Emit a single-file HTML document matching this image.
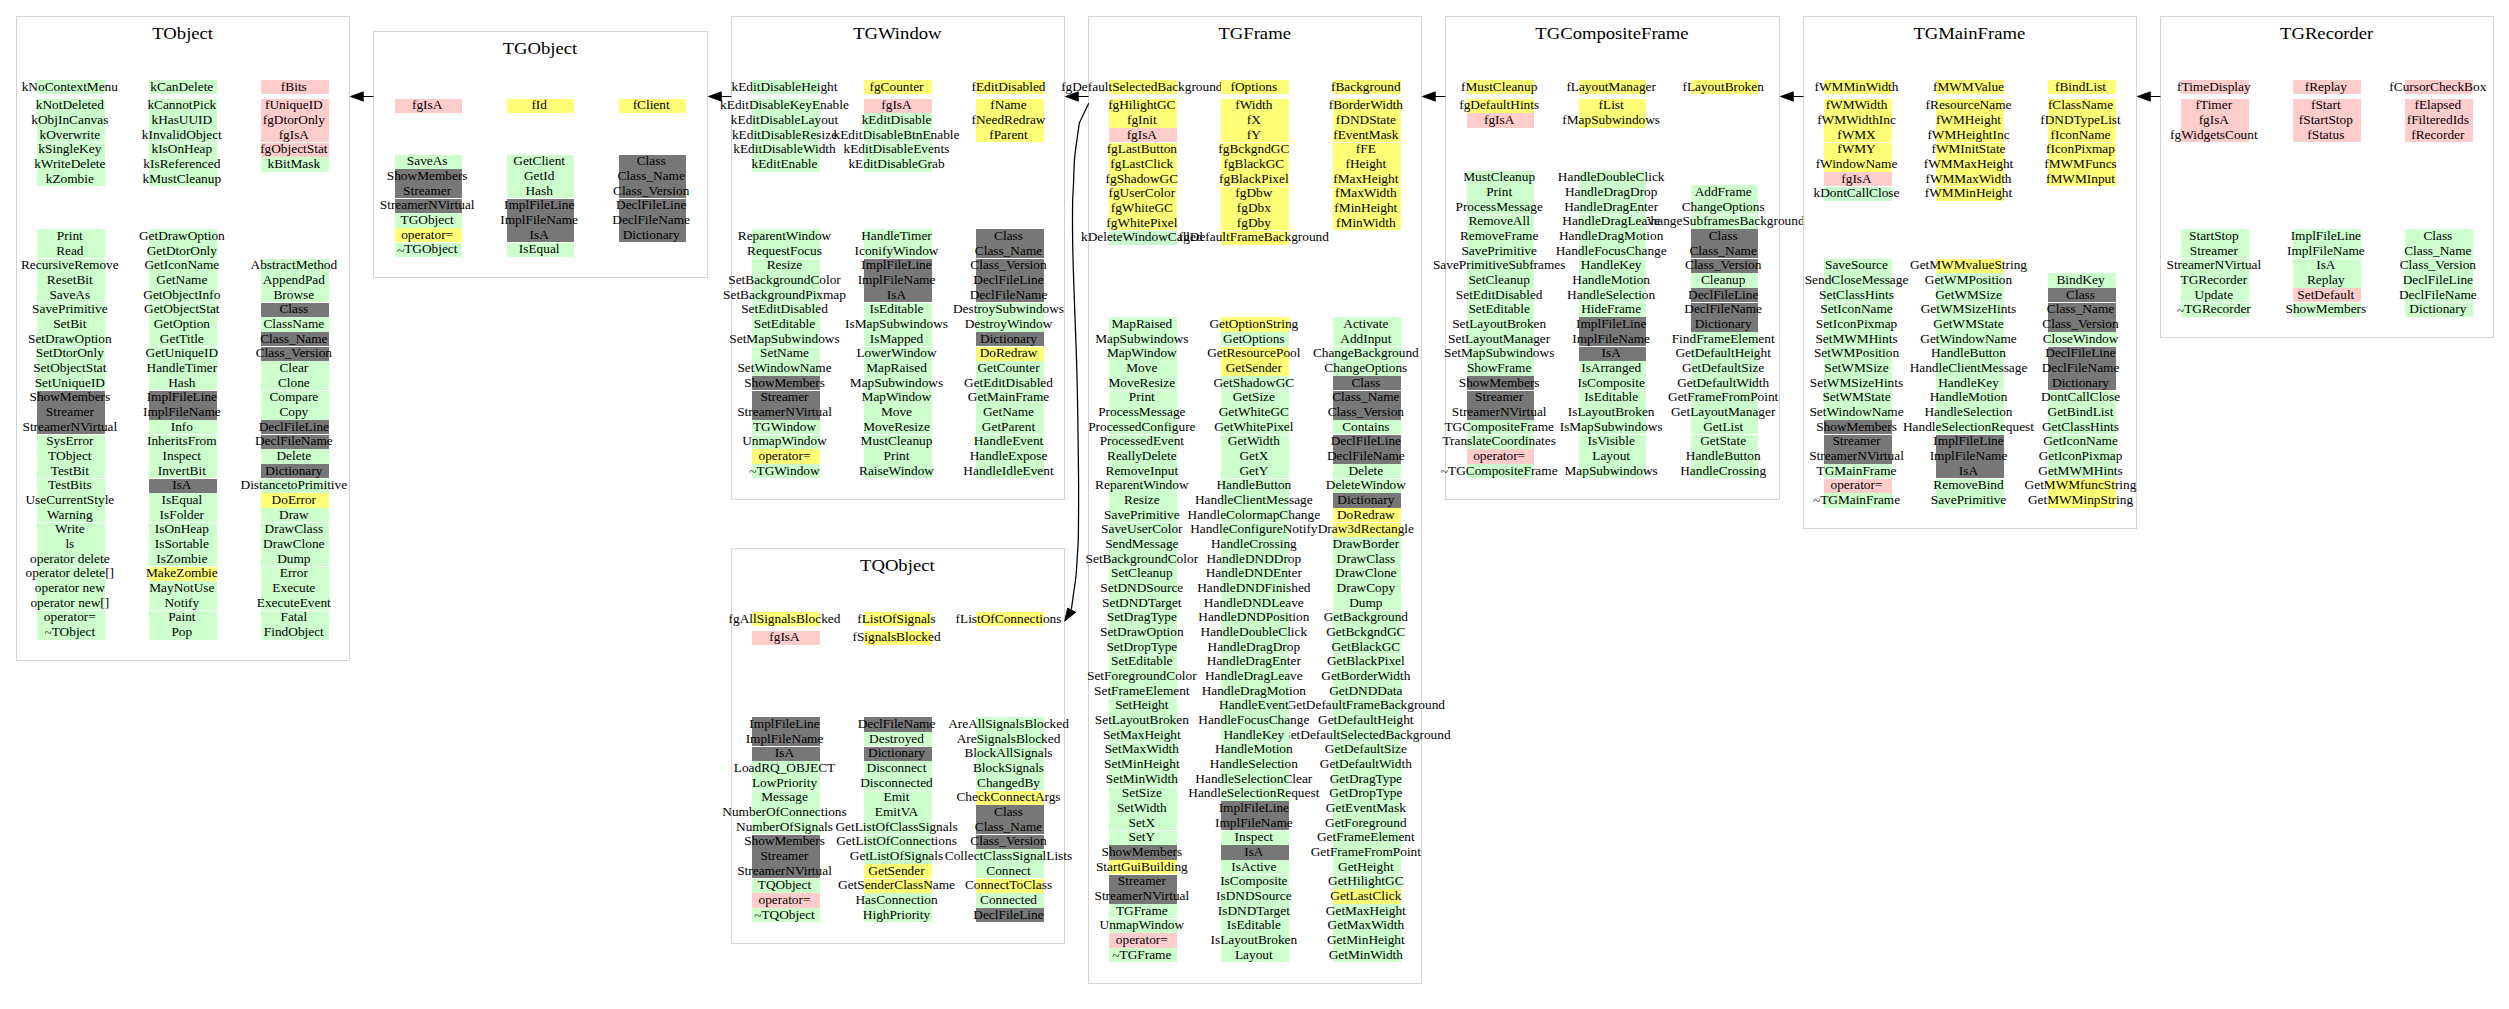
<!DOCTYPE html>
<html><head><meta charset="utf-8"><title>TGRecorder</title>
<style>
html,body{margin:0;padding:0;background:#fff}
svg{display:block}
text{font-family:"Liberation Serif","Times New Roman",Times,serif;font-size:13.333px;text-anchor:middle;fill:#000}
text.t{font-size:18.667px}
rect.c{fill:none;stroke:#d3d3d3;stroke-width:1}
path.e{fill:none;stroke:#000;stroke-width:1}
path.a{fill:#000;stroke:#000;stroke-width:0.8}
</style></head><body>
<svg width="2509" height="1009" viewBox="0 0 2509 1009">
<rect class="c" x="16.5" y="16.5" width="333" height="644"/>
<text class="t" transform="translate(182.67 38.8) scale(1 .95)">TObject</text>
<rect x="37" y="80" width="68" height="14" fill="#ccffcc"/>
<text x="69.83" y="90.6">kNoContextMenu</text>
<rect x="37" y="99" width="68" height="14" fill="#ccffcc"/>
<text x="69.83" y="109.27">kNotDeleted</text>
<rect x="37" y="113" width="68" height="15" fill="#ccffcc"/>
<text x="69.83" y="123.93">kObjInCanvas</text>
<rect x="37" y="128" width="68" height="14" fill="#ccffcc"/>
<text x="69.83" y="138.6">kOverwrite</text>
<rect x="37" y="143" width="68" height="14" fill="#ccffcc"/>
<text x="69.83" y="153.27">kSingleKey</text>
<rect x="37" y="157" width="68" height="15" fill="#ccffcc"/>
<text x="69.83" y="167.93">kWriteDelete</text>
<rect x="37" y="172" width="68" height="14" fill="#ccffcc"/>
<text x="69.83" y="182.6">kZombie</text>
<rect x="261" y="80" width="68" height="14" fill="#ffcccc"/>
<text x="293.83" y="90.6">fBits</text>
<rect x="261" y="99" width="68" height="14" fill="#ffcccc"/>
<text x="293.83" y="109.27">fUniqueID</text>
<rect x="261" y="113" width="68" height="15" fill="#ffcccc"/>
<text x="293.83" y="123.93">fgDtorOnly</text>
<rect x="261" y="128" width="68" height="14" fill="#ffcccc"/>
<text x="293.83" y="138.6">fgIsA</text>
<rect x="261" y="143" width="68" height="14" fill="#ffcccc"/>
<text x="293.83" y="153.27">fgObjectStat</text>
<rect x="261" y="157" width="68" height="15" fill="#ccffcc"/>
<text x="293.83" y="167.93">kBitMask</text>
<rect x="149" y="80" width="68" height="14" fill="#ccffcc"/>
<text x="181.83" y="90.6">kCanDelete</text>
<rect x="149" y="99" width="68" height="14" fill="#ccffcc"/>
<text x="181.83" y="109.27">kCannotPick</text>
<rect x="149" y="113" width="68" height="15" fill="#ccffcc"/>
<text x="181.83" y="123.93">kHasUUID</text>
<rect x="149" y="128" width="68" height="14" fill="#ccffcc"/>
<text x="181.83" y="138.6">kInvalidObject</text>
<rect x="149" y="143" width="68" height="14" fill="#ccffcc"/>
<text x="181.83" y="153.27">kIsOnHeap</text>
<rect x="149" y="157" width="68" height="15" fill="#ccffcc"/>
<text x="181.83" y="167.93">kIsReferenced</text>
<rect x="149" y="172" width="68" height="14" fill="#ccffcc"/>
<text x="181.83" y="182.6">kMustCleanup</text>
<rect x="37" y="229" width="68" height="15" fill="#ccffcc"/>
<text x="69.83" y="239.93">Print</text>
<rect x="37" y="244" width="68" height="14" fill="#ccffcc"/>
<text x="69.83" y="254.6">Read</text>
<rect x="37" y="259" width="68" height="14" fill="#ccffcc"/>
<text x="69.83" y="269.27">RecursiveRemove</text>
<rect x="37" y="273" width="68" height="15" fill="#ccffcc"/>
<text x="69.83" y="283.93">ResetBit</text>
<rect x="37" y="288" width="68" height="14" fill="#ccffcc"/>
<text x="69.83" y="298.6">SaveAs</text>
<rect x="37" y="303" width="68" height="14" fill="#ccffcc"/>
<text x="69.83" y="313.27">SavePrimitive</text>
<rect x="37" y="317" width="68" height="15" fill="#ccffcc"/>
<text x="69.83" y="327.93">SetBit</text>
<rect x="37" y="332" width="68" height="14" fill="#ccffcc"/>
<text x="69.83" y="342.6">SetDrawOption</text>
<rect x="37" y="347" width="68" height="14" fill="#ccffcc"/>
<text x="69.83" y="357.27">SetDtorOnly</text>
<rect x="37" y="361" width="68" height="15" fill="#ccffcc"/>
<text x="69.83" y="371.93">SetObjectStat</text>
<rect x="37" y="376" width="68" height="14" fill="#ccffcc"/>
<text x="69.83" y="386.6">SetUniqueID</text>
<rect x="37" y="391" width="68" height="14" fill="#777777"/>
<text x="69.83" y="401.27">ShowMembers</text>
<rect x="37" y="405" width="68" height="15" fill="#777777"/>
<text x="69.83" y="415.93">Streamer</text>
<rect x="37" y="420" width="68" height="14" fill="#777777"/>
<text x="69.83" y="430.6">StreamerNVirtual</text>
<rect x="37" y="435" width="68" height="14" fill="#ccffcc"/>
<text x="69.83" y="445.27">SysError</text>
<rect x="37" y="449" width="68" height="15" fill="#ccffcc"/>
<text x="69.83" y="459.93">TObject</text>
<rect x="37" y="464" width="68" height="14" fill="#ccffcc"/>
<text x="69.83" y="474.6">TestBit</text>
<rect x="37" y="479" width="68" height="14" fill="#ccffcc"/>
<text x="69.83" y="489.27">TestBits</text>
<rect x="37" y="493" width="68" height="15" fill="#ccffcc"/>
<text x="69.83" y="503.93">UseCurrentStyle</text>
<rect x="37" y="508" width="68" height="14" fill="#ccffcc"/>
<text x="69.83" y="518.6">Warning</text>
<rect x="37" y="523" width="68" height="14" fill="#ccffcc"/>
<text x="69.83" y="533.27">Write</text>
<rect x="37" y="537" width="68" height="15" fill="#ccffcc"/>
<text x="69.83" y="547.93">ls</text>
<rect x="37" y="552" width="68" height="14" fill="#ccffcc"/>
<text x="69.83" y="562.6">operator delete</text>
<rect x="37" y="567" width="68" height="14" fill="#ccffcc"/>
<text x="69.83" y="577.27">operator delete[]</text>
<rect x="37" y="581" width="68" height="15" fill="#ccffcc"/>
<text x="69.83" y="591.93">operator new</text>
<rect x="37" y="596" width="68" height="14" fill="#ccffcc"/>
<text x="69.83" y="606.6">operator new[]</text>
<rect x="37" y="611" width="68" height="14" fill="#ccffcc"/>
<text x="69.83" y="621.27">operator=</text>
<rect x="37" y="625" width="68" height="15" fill="#ccffcc"/>
<text x="69.83" y="635.93"><tspan dy="1.5">~</tspan><tspan dy="-1.5">TObject</tspan></text>
<rect x="261" y="259" width="68" height="14" fill="#ccffcc"/>
<text x="293.83" y="269.27">AbstractMethod</text>
<rect x="261" y="273" width="68" height="15" fill="#ccffcc"/>
<text x="293.83" y="283.93">AppendPad</text>
<rect x="261" y="288" width="68" height="14" fill="#ccffcc"/>
<text x="293.83" y="298.6">Browse</text>
<rect x="261" y="303" width="68" height="14" fill="#777777"/>
<text x="293.83" y="313.27">Class</text>
<rect x="261" y="317" width="68" height="15" fill="#ccffcc"/>
<text x="293.83" y="327.93">ClassName</text>
<rect x="261" y="332" width="68" height="14" fill="#777777"/>
<text x="293.83" y="342.6">Class_Name</text>
<rect x="261" y="347" width="68" height="14" fill="#777777"/>
<text x="293.83" y="357.27">Class_Version</text>
<rect x="261" y="361" width="68" height="15" fill="#ccffcc"/>
<text x="293.83" y="371.93">Clear</text>
<rect x="261" y="376" width="68" height="14" fill="#ccffcc"/>
<text x="293.83" y="386.6">Clone</text>
<rect x="261" y="391" width="68" height="14" fill="#ccffcc"/>
<text x="293.83" y="401.27">Compare</text>
<rect x="261" y="405" width="68" height="15" fill="#ccffcc"/>
<text x="293.83" y="415.93">Copy</text>
<rect x="261" y="420" width="68" height="14" fill="#777777"/>
<text x="293.83" y="430.6">DeclFileLine</text>
<rect x="261" y="435" width="68" height="14" fill="#777777"/>
<text x="293.83" y="445.27">DeclFileName</text>
<rect x="261" y="449" width="68" height="15" fill="#ccffcc"/>
<text x="293.83" y="459.93">Delete</text>
<rect x="261" y="464" width="68" height="14" fill="#777777"/>
<text x="293.83" y="474.6">Dictionary</text>
<rect x="261" y="479" width="68" height="14" fill="#ccffcc"/>
<text x="293.83" y="489.27">DistancetoPrimitive</text>
<rect x="261" y="493" width="68" height="15" fill="#ffff77"/>
<text x="293.83" y="503.93">DoError</text>
<rect x="261" y="508" width="68" height="14" fill="#ccffcc"/>
<text x="293.83" y="518.6">Draw</text>
<rect x="261" y="523" width="68" height="14" fill="#ccffcc"/>
<text x="293.83" y="533.27">DrawClass</text>
<rect x="261" y="537" width="68" height="15" fill="#ccffcc"/>
<text x="293.83" y="547.93">DrawClone</text>
<rect x="261" y="552" width="68" height="14" fill="#ccffcc"/>
<text x="293.83" y="562.6">Dump</text>
<rect x="261" y="567" width="68" height="14" fill="#ccffcc"/>
<text x="293.83" y="577.27">Error</text>
<rect x="261" y="581" width="68" height="15" fill="#ccffcc"/>
<text x="293.83" y="591.93">Execute</text>
<rect x="261" y="596" width="68" height="14" fill="#ccffcc"/>
<text x="293.83" y="606.6">ExecuteEvent</text>
<rect x="261" y="611" width="68" height="14" fill="#ccffcc"/>
<text x="293.83" y="621.27">Fatal</text>
<rect x="261" y="625" width="68" height="15" fill="#ccffcc"/>
<text x="293.83" y="635.93">FindObject</text>
<rect x="149" y="229" width="68" height="15" fill="#ccffcc"/>
<text x="181.83" y="239.93">GetDrawOption</text>
<rect x="149" y="244" width="68" height="14" fill="#ccffcc"/>
<text x="181.83" y="254.6">GetDtorOnly</text>
<rect x="149" y="259" width="68" height="14" fill="#ccffcc"/>
<text x="181.83" y="269.27">GetIconName</text>
<rect x="149" y="273" width="68" height="15" fill="#ccffcc"/>
<text x="181.83" y="283.93">GetName</text>
<rect x="149" y="288" width="68" height="14" fill="#ccffcc"/>
<text x="181.83" y="298.6">GetObjectInfo</text>
<rect x="149" y="303" width="68" height="14" fill="#ccffcc"/>
<text x="181.83" y="313.27">GetObjectStat</text>
<rect x="149" y="317" width="68" height="15" fill="#ccffcc"/>
<text x="181.83" y="327.93">GetOption</text>
<rect x="149" y="332" width="68" height="14" fill="#ccffcc"/>
<text x="181.83" y="342.6">GetTitle</text>
<rect x="149" y="347" width="68" height="14" fill="#ccffcc"/>
<text x="181.83" y="357.27">GetUniqueID</text>
<rect x="149" y="361" width="68" height="15" fill="#ccffcc"/>
<text x="181.83" y="371.93">HandleTimer</text>
<rect x="149" y="376" width="68" height="14" fill="#ccffcc"/>
<text x="181.83" y="386.6">Hash</text>
<rect x="149" y="391" width="68" height="14" fill="#777777"/>
<text x="181.83" y="401.27">ImplFileLine</text>
<rect x="149" y="405" width="68" height="15" fill="#777777"/>
<text x="181.83" y="415.93">ImplFileName</text>
<rect x="149" y="420" width="68" height="14" fill="#ccffcc"/>
<text x="181.83" y="430.6">Info</text>
<rect x="149" y="435" width="68" height="14" fill="#ccffcc"/>
<text x="181.83" y="445.27">InheritsFrom</text>
<rect x="149" y="449" width="68" height="15" fill="#ccffcc"/>
<text x="181.83" y="459.93">Inspect</text>
<rect x="149" y="464" width="68" height="14" fill="#ccffcc"/>
<text x="181.83" y="474.6">InvertBit</text>
<rect x="149" y="479" width="68" height="14" fill="#777777"/>
<text x="181.83" y="489.27">IsA</text>
<rect x="149" y="493" width="68" height="15" fill="#ccffcc"/>
<text x="181.83" y="503.93">IsEqual</text>
<rect x="149" y="508" width="68" height="14" fill="#ccffcc"/>
<text x="181.83" y="518.6">IsFolder</text>
<rect x="149" y="523" width="68" height="14" fill="#ccffcc"/>
<text x="181.83" y="533.27">IsOnHeap</text>
<rect x="149" y="537" width="68" height="15" fill="#ccffcc"/>
<text x="181.83" y="547.93">IsSortable</text>
<rect x="149" y="552" width="68" height="14" fill="#ccffcc"/>
<text x="181.83" y="562.6">IsZombie</text>
<rect x="149" y="567" width="68" height="14" fill="#ffff77"/>
<text x="181.83" y="577.27">MakeZombie</text>
<rect x="149" y="581" width="68" height="15" fill="#ccffcc"/>
<text x="181.83" y="591.93">MayNotUse</text>
<rect x="149" y="596" width="68" height="14" fill="#ccffcc"/>
<text x="181.83" y="606.6">Notify</text>
<rect x="149" y="611" width="68" height="14" fill="#ccffcc"/>
<text x="181.83" y="621.27">Paint</text>
<rect x="149" y="625" width="68" height="15" fill="#ccffcc"/>
<text x="181.83" y="635.93">Pop</text>
<rect class="c" x="373.5" y="31.5" width="334" height="246"/>
<text class="t" transform="translate(540 53.8) scale(1 .95)">TGObject</text>
<rect x="395" y="99" width="67" height="14" fill="#ffcccc"/>
<text x="427.17" y="109.27">fgIsA</text>
<rect x="619" y="99" width="67" height="14" fill="#ffff77"/>
<text x="651.17" y="109.27">fClient</text>
<rect x="507" y="99" width="67" height="14" fill="#ffff77"/>
<text x="539.17" y="109.27">fId</text>
<rect x="395" y="155" width="67" height="14" fill="#ccffcc"/>
<text x="427.17" y="165.27">SaveAs</text>
<rect x="395" y="169" width="67" height="15" fill="#777777"/>
<text x="427.17" y="179.93">ShowMembers</text>
<rect x="395" y="184" width="67" height="14" fill="#777777"/>
<text x="427.17" y="194.6">Streamer</text>
<rect x="395" y="199" width="67" height="14" fill="#777777"/>
<text x="427.17" y="209.27">StreamerNVirtual</text>
<rect x="395" y="213" width="67" height="15" fill="#ccffcc"/>
<text x="427.17" y="223.93">TGObject</text>
<rect x="395" y="228" width="67" height="14" fill="#ffff77"/>
<text x="427.17" y="238.6">operator=</text>
<rect x="395" y="243" width="67" height="14" fill="#ccffcc"/>
<text x="427.17" y="253.27"><tspan dy="1.5">~</tspan><tspan dy="-1.5">TGObject</tspan></text>
<rect x="619" y="155" width="67" height="14" fill="#777777"/>
<text x="651.17" y="165.27">Class</text>
<rect x="619" y="169" width="67" height="15" fill="#777777"/>
<text x="651.17" y="179.93">Class_Name</text>
<rect x="619" y="184" width="67" height="14" fill="#777777"/>
<text x="651.17" y="194.6">Class_Version</text>
<rect x="619" y="199" width="67" height="14" fill="#777777"/>
<text x="651.17" y="209.27">DeclFileLine</text>
<rect x="619" y="213" width="67" height="15" fill="#777777"/>
<text x="651.17" y="223.93">DeclFileName</text>
<rect x="619" y="228" width="67" height="14" fill="#777777"/>
<text x="651.17" y="238.6">Dictionary</text>
<rect x="507" y="155" width="67" height="14" fill="#ccffcc"/>
<text x="539.17" y="165.27">GetClient</text>
<rect x="507" y="169" width="67" height="15" fill="#ccffcc"/>
<text x="539.17" y="179.93">GetId</text>
<rect x="507" y="184" width="67" height="14" fill="#ccffcc"/>
<text x="539.17" y="194.6">Hash</text>
<rect x="507" y="199" width="67" height="14" fill="#777777"/>
<text x="539.17" y="209.27">ImplFileLine</text>
<rect x="507" y="213" width="67" height="15" fill="#777777"/>
<text x="539.17" y="223.93">ImplFileName</text>
<rect x="507" y="228" width="67" height="14" fill="#777777"/>
<text x="539.17" y="238.6">IsA</text>
<rect x="507" y="243" width="67" height="14" fill="#ccffcc"/>
<text x="539.17" y="253.27">IsEqual</text>
<rect class="c" x="731.5" y="16.5" width="333" height="483"/>
<text class="t" transform="translate(897.33 38.8) scale(1 .95)">TGWindow</text>
<rect x="752" y="80" width="68" height="14" fill="#ccffcc"/>
<text x="784.5" y="90.6">kEditDisableHeight</text>
<rect x="752" y="99" width="68" height="14" fill="#ccffcc"/>
<text x="784.5" y="109.27">kEditDisableKeyEnable</text>
<rect x="752" y="113" width="68" height="15" fill="#ccffcc"/>
<text x="784.5" y="123.93">kEditDisableLayout</text>
<rect x="752" y="128" width="68" height="14" fill="#ccffcc"/>
<text x="784.5" y="138.6">kEditDisableResize</text>
<rect x="752" y="143" width="68" height="14" fill="#ccffcc"/>
<text x="784.5" y="153.27">kEditDisableWidth</text>
<rect x="752" y="157" width="68" height="15" fill="#ccffcc"/>
<text x="784.5" y="167.93">kEditEnable</text>
<rect x="976" y="80" width="68" height="14" fill="#ffff77"/>
<text x="1008.5" y="90.6">fEditDisabled</text>
<rect x="976" y="99" width="68" height="14" fill="#ffff77"/>
<text x="1008.5" y="109.27">fName</text>
<rect x="976" y="113" width="68" height="15" fill="#ffff77"/>
<text x="1008.5" y="123.93">fNeedRedraw</text>
<rect x="976" y="128" width="68" height="14" fill="#ffff77"/>
<text x="1008.5" y="138.6">fParent</text>
<rect x="864" y="80" width="68" height="14" fill="#ffff77"/>
<text x="896.5" y="90.6">fgCounter</text>
<rect x="864" y="99" width="68" height="14" fill="#ffcccc"/>
<text x="896.5" y="109.27">fgIsA</text>
<rect x="864" y="113" width="68" height="15" fill="#ccffcc"/>
<text x="896.5" y="123.93">kEditDisable</text>
<rect x="864" y="128" width="68" height="14" fill="#ccffcc"/>
<text x="896.5" y="138.6">kEditDisableBtnEnable</text>
<rect x="864" y="143" width="68" height="14" fill="#ccffcc"/>
<text x="896.5" y="153.27">kEditDisableEvents</text>
<rect x="864" y="157" width="68" height="15" fill="#ccffcc"/>
<text x="896.5" y="167.93">kEditDisableGrab</text>
<rect x="752" y="229" width="68" height="15" fill="#ccffcc"/>
<text x="784.5" y="239.93">ReparentWindow</text>
<rect x="752" y="244" width="68" height="14" fill="#ccffcc"/>
<text x="784.5" y="254.6">RequestFocus</text>
<rect x="752" y="259" width="68" height="14" fill="#ccffcc"/>
<text x="784.5" y="269.27">Resize</text>
<rect x="752" y="273" width="68" height="15" fill="#ccffcc"/>
<text x="784.5" y="283.93">SetBackgroundColor</text>
<rect x="752" y="288" width="68" height="14" fill="#ccffcc"/>
<text x="784.5" y="298.6">SetBackgroundPixmap</text>
<rect x="752" y="303" width="68" height="14" fill="#ccffcc"/>
<text x="784.5" y="313.27">SetEditDisabled</text>
<rect x="752" y="317" width="68" height="15" fill="#ccffcc"/>
<text x="784.5" y="327.93">SetEditable</text>
<rect x="752" y="332" width="68" height="14" fill="#ccffcc"/>
<text x="784.5" y="342.6">SetMapSubwindows</text>
<rect x="752" y="347" width="68" height="14" fill="#ccffcc"/>
<text x="784.5" y="357.27">SetName</text>
<rect x="752" y="361" width="68" height="15" fill="#ccffcc"/>
<text x="784.5" y="371.93">SetWindowName</text>
<rect x="752" y="376" width="68" height="14" fill="#777777"/>
<text x="784.5" y="386.6">ShowMembers</text>
<rect x="752" y="391" width="68" height="14" fill="#777777"/>
<text x="784.5" y="401.27">Streamer</text>
<rect x="752" y="405" width="68" height="15" fill="#777777"/>
<text x="784.5" y="415.93">StreamerNVirtual</text>
<rect x="752" y="420" width="68" height="14" fill="#ccffcc"/>
<text x="784.5" y="430.6">TGWindow</text>
<rect x="752" y="435" width="68" height="14" fill="#ccffcc"/>
<text x="784.5" y="445.27">UnmapWindow</text>
<rect x="752" y="449" width="68" height="15" fill="#ffff77"/>
<text x="784.5" y="459.93">operator=</text>
<rect x="752" y="464" width="68" height="14" fill="#ccffcc"/>
<text x="784.5" y="474.6"><tspan dy="1.5">~</tspan><tspan dy="-1.5">TGWindow</tspan></text>
<rect x="976" y="229" width="68" height="15" fill="#777777"/>
<text x="1008.5" y="239.93">Class</text>
<rect x="976" y="244" width="68" height="14" fill="#777777"/>
<text x="1008.5" y="254.6">Class_Name</text>
<rect x="976" y="259" width="68" height="14" fill="#777777"/>
<text x="1008.5" y="269.27">Class_Version</text>
<rect x="976" y="273" width="68" height="15" fill="#777777"/>
<text x="1008.5" y="283.93">DeclFileLine</text>
<rect x="976" y="288" width="68" height="14" fill="#777777"/>
<text x="1008.5" y="298.6">DeclFileName</text>
<rect x="976" y="303" width="68" height="14" fill="#ccffcc"/>
<text x="1008.5" y="313.27">DestroySubwindows</text>
<rect x="976" y="317" width="68" height="15" fill="#ccffcc"/>
<text x="1008.5" y="327.93">DestroyWindow</text>
<rect x="976" y="332" width="68" height="14" fill="#777777"/>
<text x="1008.5" y="342.6">Dictionary</text>
<rect x="976" y="347" width="68" height="14" fill="#ffff77"/>
<text x="1008.5" y="357.27">DoRedraw</text>
<rect x="976" y="361" width="68" height="15" fill="#ccffcc"/>
<text x="1008.5" y="371.93">GetCounter</text>
<rect x="976" y="376" width="68" height="14" fill="#ccffcc"/>
<text x="1008.5" y="386.6">GetEditDisabled</text>
<rect x="976" y="391" width="68" height="14" fill="#ccffcc"/>
<text x="1008.5" y="401.27">GetMainFrame</text>
<rect x="976" y="405" width="68" height="15" fill="#ccffcc"/>
<text x="1008.5" y="415.93">GetName</text>
<rect x="976" y="420" width="68" height="14" fill="#ccffcc"/>
<text x="1008.5" y="430.6">GetParent</text>
<rect x="976" y="435" width="68" height="14" fill="#ccffcc"/>
<text x="1008.5" y="445.27">HandleEvent</text>
<rect x="976" y="449" width="68" height="15" fill="#ccffcc"/>
<text x="1008.5" y="459.93">HandleExpose</text>
<rect x="976" y="464" width="68" height="14" fill="#ccffcc"/>
<text x="1008.5" y="474.6">HandleIdleEvent</text>
<rect x="864" y="229" width="68" height="15" fill="#ccffcc"/>
<text x="896.5" y="239.93">HandleTimer</text>
<rect x="864" y="244" width="68" height="14" fill="#ccffcc"/>
<text x="896.5" y="254.6">IconifyWindow</text>
<rect x="864" y="259" width="68" height="14" fill="#777777"/>
<text x="896.5" y="269.27">ImplFileLine</text>
<rect x="864" y="273" width="68" height="15" fill="#777777"/>
<text x="896.5" y="283.93">ImplFileName</text>
<rect x="864" y="288" width="68" height="14" fill="#777777"/>
<text x="896.5" y="298.6">IsA</text>
<rect x="864" y="303" width="68" height="14" fill="#ccffcc"/>
<text x="896.5" y="313.27">IsEditable</text>
<rect x="864" y="317" width="68" height="15" fill="#ccffcc"/>
<text x="896.5" y="327.93">IsMapSubwindows</text>
<rect x="864" y="332" width="68" height="14" fill="#ccffcc"/>
<text x="896.5" y="342.6">IsMapped</text>
<rect x="864" y="347" width="68" height="14" fill="#ccffcc"/>
<text x="896.5" y="357.27">LowerWindow</text>
<rect x="864" y="361" width="68" height="15" fill="#ccffcc"/>
<text x="896.5" y="371.93">MapRaised</text>
<rect x="864" y="376" width="68" height="14" fill="#ccffcc"/>
<text x="896.5" y="386.6">MapSubwindows</text>
<rect x="864" y="391" width="68" height="14" fill="#ccffcc"/>
<text x="896.5" y="401.27">MapWindow</text>
<rect x="864" y="405" width="68" height="15" fill="#ccffcc"/>
<text x="896.5" y="415.93">Move</text>
<rect x="864" y="420" width="68" height="14" fill="#ccffcc"/>
<text x="896.5" y="430.6">MoveResize</text>
<rect x="864" y="435" width="68" height="14" fill="#ccffcc"/>
<text x="896.5" y="445.27">MustCleanup</text>
<rect x="864" y="449" width="68" height="15" fill="#ccffcc"/>
<text x="896.5" y="459.93">Print</text>
<rect x="864" y="464" width="68" height="14" fill="#ccffcc"/>
<text x="896.5" y="474.6">RaiseWindow</text>
<rect class="c" x="731.5" y="548.5" width="333" height="395"/>
<text class="t" transform="translate(897.33 570.8) scale(1 .95)">TQObject</text>
<rect x="752" y="612" width="68" height="14" fill="#ffff77"/>
<text x="784.5" y="622.6">fgAllSignalsBlocked</text>
<rect x="752" y="631" width="68" height="14" fill="#ffcccc"/>
<text x="784.5" y="641.27">fgIsA</text>
<rect x="976" y="612" width="68" height="14" fill="#ffff77"/>
<text x="1008.5" y="622.6">fListOfConnections</text>
<rect x="864" y="612" width="68" height="14" fill="#ffff77"/>
<text x="896.5" y="622.6">fListOfSignals</text>
<rect x="864" y="631" width="68" height="14" fill="#ffff77"/>
<text x="896.5" y="641.27">fSignalsBlocked</text>
<rect x="752" y="717" width="68" height="15" fill="#777777"/>
<text x="784.5" y="727.93">ImplFileLine</text>
<rect x="752" y="732" width="68" height="14" fill="#777777"/>
<text x="784.5" y="742.6">ImplFileName</text>
<rect x="752" y="747" width="68" height="14" fill="#777777"/>
<text x="784.5" y="757.27">IsA</text>
<rect x="752" y="761" width="68" height="15" fill="#ccffcc"/>
<text x="784.5" y="771.93">LoadRQ_OBJECT</text>
<rect x="752" y="776" width="68" height="14" fill="#ccffcc"/>
<text x="784.5" y="786.6">LowPriority</text>
<rect x="752" y="791" width="68" height="14" fill="#ccffcc"/>
<text x="784.5" y="801.27">Message</text>
<rect x="752" y="805" width="68" height="15" fill="#ccffcc"/>
<text x="784.5" y="815.93">NumberOfConnections</text>
<rect x="752" y="820" width="68" height="14" fill="#ccffcc"/>
<text x="784.5" y="830.6">NumberOfSignals</text>
<rect x="752" y="835" width="68" height="14" fill="#777777"/>
<text x="784.5" y="845.27">ShowMembers</text>
<rect x="752" y="849" width="68" height="15" fill="#777777"/>
<text x="784.5" y="859.93">Streamer</text>
<rect x="752" y="864" width="68" height="14" fill="#777777"/>
<text x="784.5" y="874.6">StreamerNVirtual</text>
<rect x="752" y="879" width="68" height="14" fill="#ccffcc"/>
<text x="784.5" y="889.27">TQObject</text>
<rect x="752" y="893" width="68" height="15" fill="#ffcccc"/>
<text x="784.5" y="903.93">operator=</text>
<rect x="752" y="908" width="68" height="14" fill="#ccffcc"/>
<text x="784.5" y="918.6"><tspan dy="1.5">~</tspan><tspan dy="-1.5">TQObject</tspan></text>
<rect x="976" y="717" width="68" height="15" fill="#ccffcc"/>
<text x="1008.5" y="727.93">AreAllSignalsBlocked</text>
<rect x="976" y="732" width="68" height="14" fill="#ccffcc"/>
<text x="1008.5" y="742.6">AreSignalsBlocked</text>
<rect x="976" y="747" width="68" height="14" fill="#ccffcc"/>
<text x="1008.5" y="757.27">BlockAllSignals</text>
<rect x="976" y="761" width="68" height="15" fill="#ccffcc"/>
<text x="1008.5" y="771.93">BlockSignals</text>
<rect x="976" y="776" width="68" height="14" fill="#ccffcc"/>
<text x="1008.5" y="786.6">ChangedBy</text>
<rect x="976" y="791" width="68" height="14" fill="#ffff77"/>
<text x="1008.5" y="801.27">CheckConnectArgs</text>
<rect x="976" y="805" width="68" height="15" fill="#777777"/>
<text x="1008.5" y="815.93">Class</text>
<rect x="976" y="820" width="68" height="14" fill="#777777"/>
<text x="1008.5" y="830.6">Class_Name</text>
<rect x="976" y="835" width="68" height="14" fill="#777777"/>
<text x="1008.5" y="845.27">Class_Version</text>
<rect x="976" y="849" width="68" height="15" fill="#ccffcc"/>
<text x="1008.5" y="859.93">CollectClassSignalLists</text>
<rect x="976" y="864" width="68" height="14" fill="#ccffcc"/>
<text x="1008.5" y="874.6">Connect</text>
<rect x="976" y="879" width="68" height="14" fill="#ffff77"/>
<text x="1008.5" y="889.27">ConnectToClass</text>
<rect x="976" y="893" width="68" height="15" fill="#ccffcc"/>
<text x="1008.5" y="903.93">Connected</text>
<rect x="976" y="908" width="68" height="14" fill="#777777"/>
<text x="1008.5" y="918.6">DeclFileLine</text>
<rect x="864" y="717" width="68" height="15" fill="#777777"/>
<text x="896.5" y="727.93">DeclFileName</text>
<rect x="864" y="732" width="68" height="14" fill="#ccffcc"/>
<text x="896.5" y="742.6">Destroyed</text>
<rect x="864" y="747" width="68" height="14" fill="#777777"/>
<text x="896.5" y="757.27">Dictionary</text>
<rect x="864" y="761" width="68" height="15" fill="#ccffcc"/>
<text x="896.5" y="771.93">Disconnect</text>
<rect x="864" y="776" width="68" height="14" fill="#ccffcc"/>
<text x="896.5" y="786.6">Disconnected</text>
<rect x="864" y="791" width="68" height="14" fill="#ccffcc"/>
<text x="896.5" y="801.27">Emit</text>
<rect x="864" y="805" width="68" height="15" fill="#ccffcc"/>
<text x="896.5" y="815.93">EmitVA</text>
<rect x="864" y="820" width="68" height="14" fill="#ccffcc"/>
<text x="896.5" y="830.6">GetListOfClassSignals</text>
<rect x="864" y="835" width="68" height="14" fill="#ccffcc"/>
<text x="896.5" y="845.27">GetListOfConnections</text>
<rect x="864" y="849" width="68" height="15" fill="#ccffcc"/>
<text x="896.5" y="859.93">GetListOfSignals</text>
<rect x="864" y="864" width="68" height="14" fill="#ffff77"/>
<text x="896.5" y="874.6">GetSender</text>
<rect x="864" y="879" width="68" height="14" fill="#ffff77"/>
<text x="896.5" y="889.27">GetSenderClassName</text>
<rect x="864" y="893" width="68" height="15" fill="#ccffcc"/>
<text x="896.5" y="903.93">HasConnection</text>
<rect x="864" y="908" width="68" height="14" fill="#ccffcc"/>
<text x="896.5" y="918.6">HighPriority</text>
<rect class="c" x="1088.5" y="16.5" width="333" height="967"/>
<text class="t" transform="translate(1254.67 38.8) scale(1 .95)">TGFrame</text>
<rect x="1109" y="80" width="68" height="14" fill="#ffff77"/>
<text x="1141.83" y="90.6">fgDefaultSelectedBackground</text>
<rect x="1109" y="99" width="68" height="14" fill="#ffff77"/>
<text x="1141.83" y="109.27">fgHilightGC</text>
<rect x="1109" y="113" width="68" height="15" fill="#ffff77"/>
<text x="1141.83" y="123.93">fgInit</text>
<rect x="1109" y="128" width="68" height="14" fill="#ffcccc"/>
<text x="1141.83" y="138.6">fgIsA</text>
<rect x="1109" y="143" width="68" height="14" fill="#ffff77"/>
<text x="1141.83" y="153.27">fgLastButton</text>
<rect x="1109" y="157" width="68" height="15" fill="#ffff77"/>
<text x="1141.83" y="167.93">fgLastClick</text>
<rect x="1109" y="172" width="68" height="14" fill="#ffff77"/>
<text x="1141.83" y="182.6">fgShadowGC</text>
<rect x="1109" y="187" width="68" height="14" fill="#ffff77"/>
<text x="1141.83" y="197.27">fgUserColor</text>
<rect x="1109" y="201" width="68" height="15" fill="#ffff77"/>
<text x="1141.83" y="211.93">fgWhiteGC</text>
<rect x="1109" y="216" width="68" height="14" fill="#ffff77"/>
<text x="1141.83" y="226.6">fgWhitePixel</text>
<rect x="1109" y="231" width="68" height="14" fill="#c8fad0"/>
<text x="1141.83" y="241.27">kDeleteWindowCalled</text>
<rect x="1333" y="80" width="68" height="14" fill="#ffff77"/>
<text x="1365.83" y="90.6">fBackground</text>
<rect x="1333" y="99" width="68" height="14" fill="#ffff77"/>
<text x="1365.83" y="109.27">fBorderWidth</text>
<rect x="1333" y="113" width="68" height="15" fill="#ffff77"/>
<text x="1365.83" y="123.93">fDNDState</text>
<rect x="1333" y="128" width="68" height="14" fill="#ffff77"/>
<text x="1365.83" y="138.6">fEventMask</text>
<rect x="1333" y="143" width="68" height="14" fill="#ffff77"/>
<text x="1365.83" y="153.27">fFE</text>
<rect x="1333" y="157" width="68" height="15" fill="#ffff77"/>
<text x="1365.83" y="167.93">fHeight</text>
<rect x="1333" y="172" width="68" height="14" fill="#ffff77"/>
<text x="1365.83" y="182.6">fMaxHeight</text>
<rect x="1333" y="187" width="68" height="14" fill="#ffff77"/>
<text x="1365.83" y="197.27">fMaxWidth</text>
<rect x="1333" y="201" width="68" height="15" fill="#ffff77"/>
<text x="1365.83" y="211.93">fMinHeight</text>
<rect x="1333" y="216" width="68" height="14" fill="#ffff77"/>
<text x="1365.83" y="226.6">fMinWidth</text>
<rect x="1221" y="80" width="68" height="14" fill="#ffff77"/>
<text x="1253.83" y="90.6">fOptions</text>
<rect x="1221" y="99" width="68" height="14" fill="#ffff77"/>
<text x="1253.83" y="109.27">fWidth</text>
<rect x="1221" y="113" width="68" height="15" fill="#ffff77"/>
<text x="1253.83" y="123.93">fX</text>
<rect x="1221" y="128" width="68" height="14" fill="#ffff77"/>
<text x="1253.83" y="138.6">fY</text>
<rect x="1221" y="143" width="68" height="14" fill="#ffff77"/>
<text x="1253.83" y="153.27">fgBckgndGC</text>
<rect x="1221" y="157" width="68" height="15" fill="#ffff77"/>
<text x="1253.83" y="167.93">fgBlackGC</text>
<rect x="1221" y="172" width="68" height="14" fill="#ffff77"/>
<text x="1253.83" y="182.6">fgBlackPixel</text>
<rect x="1221" y="187" width="68" height="14" fill="#ffff77"/>
<text x="1253.83" y="197.27">fgDbw</text>
<rect x="1221" y="201" width="68" height="15" fill="#ffff77"/>
<text x="1253.83" y="211.93">fgDbx</text>
<rect x="1221" y="216" width="68" height="14" fill="#ffff77"/>
<text x="1253.83" y="226.6">fgDby</text>
<rect x="1221" y="231" width="68" height="14" fill="#ffff77"/>
<text x="1253.83" y="241.27">fgDefaultFrameBackground</text>
<rect x="1109" y="317" width="68" height="15" fill="#ccffcc"/>
<text x="1141.83" y="327.93">MapRaised</text>
<rect x="1109" y="332" width="68" height="14" fill="#ccffcc"/>
<text x="1141.83" y="342.6">MapSubwindows</text>
<rect x="1109" y="347" width="68" height="14" fill="#ccffcc"/>
<text x="1141.83" y="357.27">MapWindow</text>
<rect x="1109" y="361" width="68" height="15" fill="#ccffcc"/>
<text x="1141.83" y="371.93">Move</text>
<rect x="1109" y="376" width="68" height="14" fill="#ccffcc"/>
<text x="1141.83" y="386.6">MoveResize</text>
<rect x="1109" y="391" width="68" height="14" fill="#ccffcc"/>
<text x="1141.83" y="401.27">Print</text>
<rect x="1109" y="405" width="68" height="15" fill="#ccffcc"/>
<text x="1141.83" y="415.93">ProcessMessage</text>
<rect x="1109" y="420" width="68" height="14" fill="#ccffcc"/>
<text x="1141.83" y="430.6">ProcessedConfigure</text>
<rect x="1109" y="435" width="68" height="14" fill="#ccffcc"/>
<text x="1141.83" y="445.27">ProcessedEvent</text>
<rect x="1109" y="449" width="68" height="15" fill="#ccffcc"/>
<text x="1141.83" y="459.93">ReallyDelete</text>
<rect x="1109" y="464" width="68" height="14" fill="#ccffcc"/>
<text x="1141.83" y="474.6">RemoveInput</text>
<rect x="1109" y="479" width="68" height="14" fill="#ccffcc"/>
<text x="1141.83" y="489.27">ReparentWindow</text>
<rect x="1109" y="493" width="68" height="15" fill="#ccffcc"/>
<text x="1141.83" y="503.93">Resize</text>
<rect x="1109" y="508" width="68" height="14" fill="#ccffcc"/>
<text x="1141.83" y="518.6">SavePrimitive</text>
<rect x="1109" y="523" width="68" height="14" fill="#ccffcc"/>
<text x="1141.83" y="533.27">SaveUserColor</text>
<rect x="1109" y="537" width="68" height="15" fill="#ccffcc"/>
<text x="1141.83" y="547.93">SendMessage</text>
<rect x="1109" y="552" width="68" height="14" fill="#ccffcc"/>
<text x="1141.83" y="562.6">SetBackgroundColor</text>
<rect x="1109" y="567" width="68" height="14" fill="#ccffcc"/>
<text x="1141.83" y="577.27">SetCleanup</text>
<rect x="1109" y="581" width="68" height="15" fill="#ccffcc"/>
<text x="1141.83" y="591.93">SetDNDSource</text>
<rect x="1109" y="596" width="68" height="14" fill="#ccffcc"/>
<text x="1141.83" y="606.6">SetDNDTarget</text>
<rect x="1109" y="611" width="68" height="14" fill="#ccffcc"/>
<text x="1141.83" y="621.27">SetDragType</text>
<rect x="1109" y="625" width="68" height="15" fill="#ccffcc"/>
<text x="1141.83" y="635.93">SetDrawOption</text>
<rect x="1109" y="640" width="68" height="14" fill="#ccffcc"/>
<text x="1141.83" y="650.6">SetDropType</text>
<rect x="1109" y="655" width="68" height="14" fill="#ccffcc"/>
<text x="1141.83" y="665.27">SetEditable</text>
<rect x="1109" y="669" width="68" height="15" fill="#ccffcc"/>
<text x="1141.83" y="679.93">SetForegroundColor</text>
<rect x="1109" y="684" width="68" height="14" fill="#ccffcc"/>
<text x="1141.83" y="694.6">SetFrameElement</text>
<rect x="1109" y="699" width="68" height="14" fill="#ccffcc"/>
<text x="1141.83" y="709.27">SetHeight</text>
<rect x="1109" y="713" width="68" height="15" fill="#ccffcc"/>
<text x="1141.83" y="723.93">SetLayoutBroken</text>
<rect x="1109" y="728" width="68" height="14" fill="#ccffcc"/>
<text x="1141.83" y="738.6">SetMaxHeight</text>
<rect x="1109" y="743" width="68" height="14" fill="#ccffcc"/>
<text x="1141.83" y="753.27">SetMaxWidth</text>
<rect x="1109" y="757" width="68" height="15" fill="#ccffcc"/>
<text x="1141.83" y="767.93">SetMinHeight</text>
<rect x="1109" y="772" width="68" height="14" fill="#ccffcc"/>
<text x="1141.83" y="782.6">SetMinWidth</text>
<rect x="1109" y="787" width="68" height="14" fill="#ccffcc"/>
<text x="1141.83" y="797.27">SetSize</text>
<rect x="1109" y="801" width="68" height="15" fill="#ccffcc"/>
<text x="1141.83" y="811.93">SetWidth</text>
<rect x="1109" y="816" width="68" height="14" fill="#ccffcc"/>
<text x="1141.83" y="826.6">SetX</text>
<rect x="1109" y="831" width="68" height="14" fill="#ccffcc"/>
<text x="1141.83" y="841.27">SetY</text>
<rect x="1109" y="845" width="68" height="15" fill="#777777"/>
<text x="1141.83" y="855.93">ShowMembers</text>
<rect x="1109" y="860" width="68" height="14" fill="#ffff77"/>
<text x="1141.83" y="870.6">StartGuiBuilding</text>
<rect x="1109" y="875" width="68" height="14" fill="#777777"/>
<text x="1141.83" y="885.27">Streamer</text>
<rect x="1109" y="889" width="68" height="15" fill="#777777"/>
<text x="1141.83" y="899.93">StreamerNVirtual</text>
<rect x="1109" y="904" width="68" height="14" fill="#ccffcc"/>
<text x="1141.83" y="914.6">TGFrame</text>
<rect x="1109" y="919" width="68" height="14" fill="#ccffcc"/>
<text x="1141.83" y="929.27">UnmapWindow</text>
<rect x="1109" y="933" width="68" height="15" fill="#ffcccc"/>
<text x="1141.83" y="943.93">operator=</text>
<rect x="1109" y="948" width="68" height="14" fill="#ccffcc"/>
<text x="1141.83" y="958.6"><tspan dy="1.5">~</tspan><tspan dy="-1.5">TGFrame</tspan></text>
<rect x="1333" y="317" width="68" height="15" fill="#ccffcc"/>
<text x="1365.83" y="327.93">Activate</text>
<rect x="1333" y="332" width="68" height="14" fill="#ccffcc"/>
<text x="1365.83" y="342.6">AddInput</text>
<rect x="1333" y="347" width="68" height="14" fill="#ccffcc"/>
<text x="1365.83" y="357.27">ChangeBackground</text>
<rect x="1333" y="361" width="68" height="15" fill="#ccffcc"/>
<text x="1365.83" y="371.93">ChangeOptions</text>
<rect x="1333" y="376" width="68" height="14" fill="#777777"/>
<text x="1365.83" y="386.6">Class</text>
<rect x="1333" y="391" width="68" height="14" fill="#777777"/>
<text x="1365.83" y="401.27">Class_Name</text>
<rect x="1333" y="405" width="68" height="15" fill="#777777"/>
<text x="1365.83" y="415.93">Class_Version</text>
<rect x="1333" y="420" width="68" height="14" fill="#ccffcc"/>
<text x="1365.83" y="430.6">Contains</text>
<rect x="1333" y="435" width="68" height="14" fill="#777777"/>
<text x="1365.83" y="445.27">DeclFileLine</text>
<rect x="1333" y="449" width="68" height="15" fill="#777777"/>
<text x="1365.83" y="459.93">DeclFileName</text>
<rect x="1333" y="464" width="68" height="14" fill="#ccffcc"/>
<text x="1365.83" y="474.6">Delete</text>
<rect x="1333" y="479" width="68" height="14" fill="#ccffcc"/>
<text x="1365.83" y="489.27">DeleteWindow</text>
<rect x="1333" y="493" width="68" height="15" fill="#777777"/>
<text x="1365.83" y="503.93">Dictionary</text>
<rect x="1333" y="508" width="68" height="14" fill="#ffff77"/>
<text x="1365.83" y="518.6">DoRedraw</text>
<rect x="1333" y="523" width="68" height="14" fill="#ffff77"/>
<text x="1365.83" y="533.27">Draw3dRectangle</text>
<rect x="1333" y="537" width="68" height="15" fill="#ccffcc"/>
<text x="1365.83" y="547.93">DrawBorder</text>
<rect x="1333" y="552" width="68" height="14" fill="#ccffcc"/>
<text x="1365.83" y="562.6">DrawClass</text>
<rect x="1333" y="567" width="68" height="14" fill="#ccffcc"/>
<text x="1365.83" y="577.27">DrawClone</text>
<rect x="1333" y="581" width="68" height="15" fill="#ccffcc"/>
<text x="1365.83" y="591.93">DrawCopy</text>
<rect x="1333" y="596" width="68" height="14" fill="#ccffcc"/>
<text x="1365.83" y="606.6">Dump</text>
<rect x="1333" y="611" width="68" height="14" fill="#ccffcc"/>
<text x="1365.83" y="621.27">GetBackground</text>
<rect x="1333" y="625" width="68" height="15" fill="#ccffcc"/>
<text x="1365.83" y="635.93">GetBckgndGC</text>
<rect x="1333" y="640" width="68" height="14" fill="#ccffcc"/>
<text x="1365.83" y="650.6">GetBlackGC</text>
<rect x="1333" y="655" width="68" height="14" fill="#ccffcc"/>
<text x="1365.83" y="665.27">GetBlackPixel</text>
<rect x="1333" y="669" width="68" height="15" fill="#ccffcc"/>
<text x="1365.83" y="679.93">GetBorderWidth</text>
<rect x="1333" y="684" width="68" height="14" fill="#ccffcc"/>
<text x="1365.83" y="694.6">GetDNDData</text>
<rect x="1333" y="699" width="68" height="14" fill="#ccffcc"/>
<text x="1365.83" y="709.27">GetDefaultFrameBackground</text>
<rect x="1333" y="713" width="68" height="15" fill="#ccffcc"/>
<text x="1365.83" y="723.93">GetDefaultHeight</text>
<rect x="1333" y="728" width="68" height="14" fill="#ccffcc"/>
<text x="1365.83" y="738.6">GetDefaultSelectedBackground</text>
<rect x="1333" y="743" width="68" height="14" fill="#ccffcc"/>
<text x="1365.83" y="753.27">GetDefaultSize</text>
<rect x="1333" y="757" width="68" height="15" fill="#ccffcc"/>
<text x="1365.83" y="767.93">GetDefaultWidth</text>
<rect x="1333" y="772" width="68" height="14" fill="#ccffcc"/>
<text x="1365.83" y="782.6">GetDragType</text>
<rect x="1333" y="787" width="68" height="14" fill="#ccffcc"/>
<text x="1365.83" y="797.27">GetDropType</text>
<rect x="1333" y="801" width="68" height="15" fill="#ccffcc"/>
<text x="1365.83" y="811.93">GetEventMask</text>
<rect x="1333" y="816" width="68" height="14" fill="#ccffcc"/>
<text x="1365.83" y="826.6">GetForeground</text>
<rect x="1333" y="831" width="68" height="14" fill="#ccffcc"/>
<text x="1365.83" y="841.27">GetFrameElement</text>
<rect x="1333" y="845" width="68" height="15" fill="#ccffcc"/>
<text x="1365.83" y="855.93">GetFrameFromPoint</text>
<rect x="1333" y="860" width="68" height="14" fill="#ccffcc"/>
<text x="1365.83" y="870.6">GetHeight</text>
<rect x="1333" y="875" width="68" height="14" fill="#ccffcc"/>
<text x="1365.83" y="885.27">GetHilightGC</text>
<rect x="1333" y="889" width="68" height="15" fill="#ffff77"/>
<text x="1365.83" y="899.93">GetLastClick</text>
<rect x="1333" y="904" width="68" height="14" fill="#ccffcc"/>
<text x="1365.83" y="914.6">GetMaxHeight</text>
<rect x="1333" y="919" width="68" height="14" fill="#ccffcc"/>
<text x="1365.83" y="929.27">GetMaxWidth</text>
<rect x="1333" y="933" width="68" height="15" fill="#ccffcc"/>
<text x="1365.83" y="943.93">GetMinHeight</text>
<rect x="1333" y="948" width="68" height="14" fill="#ccffcc"/>
<text x="1365.83" y="958.6">GetMinWidth</text>
<rect x="1221" y="317" width="68" height="15" fill="#ffff77"/>
<text x="1253.83" y="327.93">GetOptionString</text>
<rect x="1221" y="332" width="68" height="14" fill="#ccffcc"/>
<text x="1253.83" y="342.6">GetOptions</text>
<rect x="1221" y="347" width="68" height="14" fill="#ffff77"/>
<text x="1253.83" y="357.27">GetResourcePool</text>
<rect x="1221" y="361" width="68" height="15" fill="#ffff77"/>
<text x="1253.83" y="371.93">GetSender</text>
<rect x="1221" y="376" width="68" height="14" fill="#ccffcc"/>
<text x="1253.83" y="386.6">GetShadowGC</text>
<rect x="1221" y="391" width="68" height="14" fill="#ccffcc"/>
<text x="1253.83" y="401.27">GetSize</text>
<rect x="1221" y="405" width="68" height="15" fill="#ccffcc"/>
<text x="1253.83" y="415.93">GetWhiteGC</text>
<rect x="1221" y="420" width="68" height="14" fill="#ccffcc"/>
<text x="1253.83" y="430.6">GetWhitePixel</text>
<rect x="1221" y="435" width="68" height="14" fill="#ccffcc"/>
<text x="1253.83" y="445.27">GetWidth</text>
<rect x="1221" y="449" width="68" height="15" fill="#ccffcc"/>
<text x="1253.83" y="459.93">GetX</text>
<rect x="1221" y="464" width="68" height="14" fill="#ccffcc"/>
<text x="1253.83" y="474.6">GetY</text>
<rect x="1221" y="479" width="68" height="14" fill="#ccffcc"/>
<text x="1253.83" y="489.27">HandleButton</text>
<rect x="1221" y="493" width="68" height="15" fill="#ccffcc"/>
<text x="1253.83" y="503.93">HandleClientMessage</text>
<rect x="1221" y="508" width="68" height="14" fill="#ccffcc"/>
<text x="1253.83" y="518.6">HandleColormapChange</text>
<rect x="1221" y="523" width="68" height="14" fill="#ccffcc"/>
<text x="1253.83" y="533.27">HandleConfigureNotify</text>
<rect x="1221" y="537" width="68" height="15" fill="#ccffcc"/>
<text x="1253.83" y="547.93">HandleCrossing</text>
<rect x="1221" y="552" width="68" height="14" fill="#ccffcc"/>
<text x="1253.83" y="562.6">HandleDNDDrop</text>
<rect x="1221" y="567" width="68" height="14" fill="#ccffcc"/>
<text x="1253.83" y="577.27">HandleDNDEnter</text>
<rect x="1221" y="581" width="68" height="15" fill="#ccffcc"/>
<text x="1253.83" y="591.93">HandleDNDFinished</text>
<rect x="1221" y="596" width="68" height="14" fill="#ccffcc"/>
<text x="1253.83" y="606.6">HandleDNDLeave</text>
<rect x="1221" y="611" width="68" height="14" fill="#ccffcc"/>
<text x="1253.83" y="621.27">HandleDNDPosition</text>
<rect x="1221" y="625" width="68" height="15" fill="#ccffcc"/>
<text x="1253.83" y="635.93">HandleDoubleClick</text>
<rect x="1221" y="640" width="68" height="14" fill="#ccffcc"/>
<text x="1253.83" y="650.6">HandleDragDrop</text>
<rect x="1221" y="655" width="68" height="14" fill="#ccffcc"/>
<text x="1253.83" y="665.27">HandleDragEnter</text>
<rect x="1221" y="669" width="68" height="15" fill="#ccffcc"/>
<text x="1253.83" y="679.93">HandleDragLeave</text>
<rect x="1221" y="684" width="68" height="14" fill="#ccffcc"/>
<text x="1253.83" y="694.6">HandleDragMotion</text>
<rect x="1221" y="699" width="68" height="14" fill="#ccffcc"/>
<text x="1253.83" y="709.27">HandleEvent</text>
<rect x="1221" y="713" width="68" height="15" fill="#ccffcc"/>
<text x="1253.83" y="723.93">HandleFocusChange</text>
<rect x="1221" y="728" width="68" height="14" fill="#ccffcc"/>
<text x="1253.83" y="738.6">HandleKey</text>
<rect x="1221" y="743" width="68" height="14" fill="#ccffcc"/>
<text x="1253.83" y="753.27">HandleMotion</text>
<rect x="1221" y="757" width="68" height="15" fill="#ccffcc"/>
<text x="1253.83" y="767.93">HandleSelection</text>
<rect x="1221" y="772" width="68" height="14" fill="#ccffcc"/>
<text x="1253.83" y="782.6">HandleSelectionClear</text>
<rect x="1221" y="787" width="68" height="14" fill="#ccffcc"/>
<text x="1253.83" y="797.27">HandleSelectionRequest</text>
<rect x="1221" y="801" width="68" height="15" fill="#777777"/>
<text x="1253.83" y="811.93">ImplFileLine</text>
<rect x="1221" y="816" width="68" height="14" fill="#777777"/>
<text x="1253.83" y="826.6">ImplFileName</text>
<rect x="1221" y="831" width="68" height="14" fill="#ccffcc"/>
<text x="1253.83" y="841.27">Inspect</text>
<rect x="1221" y="845" width="68" height="15" fill="#777777"/>
<text x="1253.83" y="855.93">IsA</text>
<rect x="1221" y="860" width="68" height="14" fill="#ccffcc"/>
<text x="1253.83" y="870.6">IsActive</text>
<rect x="1221" y="875" width="68" height="14" fill="#ccffcc"/>
<text x="1253.83" y="885.27">IsComposite</text>
<rect x="1221" y="889" width="68" height="15" fill="#ccffcc"/>
<text x="1253.83" y="899.93">IsDNDSource</text>
<rect x="1221" y="904" width="68" height="14" fill="#ccffcc"/>
<text x="1253.83" y="914.6">IsDNDTarget</text>
<rect x="1221" y="919" width="68" height="14" fill="#ccffcc"/>
<text x="1253.83" y="929.27">IsEditable</text>
<rect x="1221" y="933" width="68" height="15" fill="#ccffcc"/>
<text x="1253.83" y="943.93">IsLayoutBroken</text>
<rect x="1221" y="948" width="68" height="14" fill="#ccffcc"/>
<text x="1253.83" y="958.6">Layout</text>
<rect class="c" x="1445.5" y="16.5" width="334" height="483"/>
<text class="t" transform="translate(1612 38.8) scale(1 .95)">TGCompositeFrame</text>
<rect x="1467" y="80" width="67" height="14" fill="#ffff77"/>
<text x="1499.17" y="90.6">fMustCleanup</text>
<rect x="1467" y="99" width="67" height="14" fill="#ffff77"/>
<text x="1499.17" y="109.27">fgDefaultHints</text>
<rect x="1467" y="113" width="67" height="15" fill="#ffcccc"/>
<text x="1499.17" y="123.93">fgIsA</text>
<rect x="1691" y="80" width="67" height="14" fill="#ffff77"/>
<text x="1723.17" y="90.6">fLayoutBroken</text>
<rect x="1579" y="80" width="67" height="14" fill="#ffff77"/>
<text x="1611.17" y="90.6">fLayoutManager</text>
<rect x="1579" y="99" width="67" height="14" fill="#ffff77"/>
<text x="1611.17" y="109.27">fList</text>
<rect x="1579" y="113" width="67" height="15" fill="#ffff77"/>
<text x="1611.17" y="123.93">fMapSubwindows</text>
<rect x="1467" y="171" width="67" height="14" fill="#ccffcc"/>
<text x="1499.17" y="181.27">MustCleanup</text>
<rect x="1467" y="185" width="67" height="15" fill="#ccffcc"/>
<text x="1499.17" y="195.93">Print</text>
<rect x="1467" y="200" width="67" height="14" fill="#ccffcc"/>
<text x="1499.17" y="210.6">ProcessMessage</text>
<rect x="1467" y="215" width="67" height="14" fill="#ccffcc"/>
<text x="1499.17" y="225.27">RemoveAll</text>
<rect x="1467" y="229" width="67" height="15" fill="#ccffcc"/>
<text x="1499.17" y="239.93">RemoveFrame</text>
<rect x="1467" y="244" width="67" height="14" fill="#ccffcc"/>
<text x="1499.17" y="254.6">SavePrimitive</text>
<rect x="1467" y="259" width="67" height="14" fill="#ccffcc"/>
<text x="1499.17" y="269.27">SavePrimitiveSubframes</text>
<rect x="1467" y="273" width="67" height="15" fill="#ccffcc"/>
<text x="1499.17" y="283.93">SetCleanup</text>
<rect x="1467" y="288" width="67" height="14" fill="#ccffcc"/>
<text x="1499.17" y="298.6">SetEditDisabled</text>
<rect x="1467" y="303" width="67" height="14" fill="#ccffcc"/>
<text x="1499.17" y="313.27">SetEditable</text>
<rect x="1467" y="317" width="67" height="15" fill="#ccffcc"/>
<text x="1499.17" y="327.93">SetLayoutBroken</text>
<rect x="1467" y="332" width="67" height="14" fill="#ccffcc"/>
<text x="1499.17" y="342.6">SetLayoutManager</text>
<rect x="1467" y="347" width="67" height="14" fill="#ccffcc"/>
<text x="1499.17" y="357.27">SetMapSubwindows</text>
<rect x="1467" y="361" width="67" height="15" fill="#ccffcc"/>
<text x="1499.17" y="371.93">ShowFrame</text>
<rect x="1467" y="376" width="67" height="14" fill="#777777"/>
<text x="1499.17" y="386.6">ShowMembers</text>
<rect x="1467" y="391" width="67" height="14" fill="#777777"/>
<text x="1499.17" y="401.27">Streamer</text>
<rect x="1467" y="405" width="67" height="15" fill="#777777"/>
<text x="1499.17" y="415.93">StreamerNVirtual</text>
<rect x="1467" y="420" width="67" height="14" fill="#ccffcc"/>
<text x="1499.17" y="430.6">TGCompositeFrame</text>
<rect x="1467" y="435" width="67" height="14" fill="#ccffcc"/>
<text x="1499.17" y="445.27">TranslateCoordinates</text>
<rect x="1467" y="449" width="67" height="15" fill="#ffcccc"/>
<text x="1499.17" y="459.93">operator=</text>
<rect x="1467" y="464" width="67" height="14" fill="#ccffcc"/>
<text x="1499.17" y="474.6"><tspan dy="1.5">~</tspan><tspan dy="-1.5">TGCompositeFrame</tspan></text>
<rect x="1691" y="185" width="67" height="15" fill="#ccffcc"/>
<text x="1723.17" y="195.93">AddFrame</text>
<rect x="1691" y="200" width="67" height="14" fill="#ccffcc"/>
<text x="1723.17" y="210.6">ChangeOptions</text>
<rect x="1691" y="215" width="67" height="14" fill="#ccffcc"/>
<text x="1723.17" y="225.27">ChangeSubframesBackground</text>
<rect x="1691" y="229" width="67" height="15" fill="#777777"/>
<text x="1723.17" y="239.93">Class</text>
<rect x="1691" y="244" width="67" height="14" fill="#777777"/>
<text x="1723.17" y="254.6">Class_Name</text>
<rect x="1691" y="259" width="67" height="14" fill="#777777"/>
<text x="1723.17" y="269.27">Class_Version</text>
<rect x="1691" y="273" width="67" height="15" fill="#ccffcc"/>
<text x="1723.17" y="283.93">Cleanup</text>
<rect x="1691" y="288" width="67" height="14" fill="#777777"/>
<text x="1723.17" y="298.6">DeclFileLine</text>
<rect x="1691" y="303" width="67" height="14" fill="#777777"/>
<text x="1723.17" y="313.27">DeclFileName</text>
<rect x="1691" y="317" width="67" height="15" fill="#777777"/>
<text x="1723.17" y="327.93">Dictionary</text>
<rect x="1691" y="332" width="67" height="14" fill="#ccffcc"/>
<text x="1723.17" y="342.6">FindFrameElement</text>
<rect x="1691" y="347" width="67" height="14" fill="#ccffcc"/>
<text x="1723.17" y="357.27">GetDefaultHeight</text>
<rect x="1691" y="361" width="67" height="15" fill="#ccffcc"/>
<text x="1723.17" y="371.93">GetDefaultSize</text>
<rect x="1691" y="376" width="67" height="14" fill="#ccffcc"/>
<text x="1723.17" y="386.6">GetDefaultWidth</text>
<rect x="1691" y="391" width="67" height="14" fill="#ccffcc"/>
<text x="1723.17" y="401.27">GetFrameFromPoint</text>
<rect x="1691" y="405" width="67" height="15" fill="#ccffcc"/>
<text x="1723.17" y="415.93">GetLayoutManager</text>
<rect x="1691" y="420" width="67" height="14" fill="#ccffcc"/>
<text x="1723.17" y="430.6">GetList</text>
<rect x="1691" y="435" width="67" height="14" fill="#ccffcc"/>
<text x="1723.17" y="445.27">GetState</text>
<rect x="1691" y="449" width="67" height="15" fill="#ccffcc"/>
<text x="1723.17" y="459.93">HandleButton</text>
<rect x="1691" y="464" width="67" height="14" fill="#ccffcc"/>
<text x="1723.17" y="474.6">HandleCrossing</text>
<rect x="1579" y="171" width="67" height="14" fill="#ccffcc"/>
<text x="1611.17" y="181.27">HandleDoubleClick</text>
<rect x="1579" y="185" width="67" height="15" fill="#ccffcc"/>
<text x="1611.17" y="195.93">HandleDragDrop</text>
<rect x="1579" y="200" width="67" height="14" fill="#ccffcc"/>
<text x="1611.17" y="210.6">HandleDragEnter</text>
<rect x="1579" y="215" width="67" height="14" fill="#ccffcc"/>
<text x="1611.17" y="225.27">HandleDragLeave</text>
<rect x="1579" y="229" width="67" height="15" fill="#ccffcc"/>
<text x="1611.17" y="239.93">HandleDragMotion</text>
<rect x="1579" y="244" width="67" height="14" fill="#ccffcc"/>
<text x="1611.17" y="254.6">HandleFocusChange</text>
<rect x="1579" y="259" width="67" height="14" fill="#ccffcc"/>
<text x="1611.17" y="269.27">HandleKey</text>
<rect x="1579" y="273" width="67" height="15" fill="#ccffcc"/>
<text x="1611.17" y="283.93">HandleMotion</text>
<rect x="1579" y="288" width="67" height="14" fill="#ccffcc"/>
<text x="1611.17" y="298.6">HandleSelection</text>
<rect x="1579" y="303" width="67" height="14" fill="#ccffcc"/>
<text x="1611.17" y="313.27">HideFrame</text>
<rect x="1579" y="317" width="67" height="15" fill="#777777"/>
<text x="1611.17" y="327.93">ImplFileLine</text>
<rect x="1579" y="332" width="67" height="14" fill="#777777"/>
<text x="1611.17" y="342.6">ImplFileName</text>
<rect x="1579" y="347" width="67" height="14" fill="#777777"/>
<text x="1611.17" y="357.27">IsA</text>
<rect x="1579" y="361" width="67" height="15" fill="#ccffcc"/>
<text x="1611.17" y="371.93">IsArranged</text>
<rect x="1579" y="376" width="67" height="14" fill="#ccffcc"/>
<text x="1611.17" y="386.6">IsComposite</text>
<rect x="1579" y="391" width="67" height="14" fill="#ccffcc"/>
<text x="1611.17" y="401.27">IsEditable</text>
<rect x="1579" y="405" width="67" height="15" fill="#ccffcc"/>
<text x="1611.17" y="415.93">IsLayoutBroken</text>
<rect x="1579" y="420" width="67" height="14" fill="#ccffcc"/>
<text x="1611.17" y="430.6">IsMapSubwindows</text>
<rect x="1579" y="435" width="67" height="14" fill="#ccffcc"/>
<text x="1611.17" y="445.27">IsVisible</text>
<rect x="1579" y="449" width="67" height="15" fill="#ccffcc"/>
<text x="1611.17" y="459.93">Layout</text>
<rect x="1579" y="464" width="67" height="14" fill="#ccffcc"/>
<text x="1611.17" y="474.6">MapSubwindows</text>
<rect class="c" x="1803.5" y="16.5" width="333" height="512"/>
<text class="t" transform="translate(1969.33 38.8) scale(1 .95)">TGMainFrame</text>
<rect x="1824" y="80" width="68" height="14" fill="#ffff77"/>
<text x="1856.5" y="90.6">fWMMinWidth</text>
<rect x="1824" y="99" width="68" height="14" fill="#ffff77"/>
<text x="1856.5" y="109.27">fWMWidth</text>
<rect x="1824" y="113" width="68" height="15" fill="#ffff77"/>
<text x="1856.5" y="123.93">fWMWidthInc</text>
<rect x="1824" y="128" width="68" height="14" fill="#ffff77"/>
<text x="1856.5" y="138.6">fWMX</text>
<rect x="1824" y="143" width="68" height="14" fill="#ffff77"/>
<text x="1856.5" y="153.27">fWMY</text>
<rect x="1824" y="157" width="68" height="15" fill="#ffff77"/>
<text x="1856.5" y="167.93">fWindowName</text>
<rect x="1824" y="172" width="68" height="14" fill="#ffcccc"/>
<text x="1856.5" y="182.6">fgIsA</text>
<rect x="1824" y="187" width="68" height="14" fill="#c8fad0"/>
<text x="1856.5" y="197.27">kDontCallClose</text>
<rect x="2048" y="80" width="68" height="14" fill="#ffff77"/>
<text x="2080.5" y="90.6">fBindList</text>
<rect x="2048" y="99" width="68" height="14" fill="#ffff77"/>
<text x="2080.5" y="109.27">fClassName</text>
<rect x="2048" y="113" width="68" height="15" fill="#ffff77"/>
<text x="2080.5" y="123.93">fDNDTypeList</text>
<rect x="2048" y="128" width="68" height="14" fill="#ffff77"/>
<text x="2080.5" y="138.6">fIconName</text>
<rect x="2048" y="143" width="68" height="14" fill="#ffff77"/>
<text x="2080.5" y="153.27">fIconPixmap</text>
<rect x="2048" y="157" width="68" height="15" fill="#ffff77"/>
<text x="2080.5" y="167.93">fMWMFuncs</text>
<rect x="2048" y="172" width="68" height="14" fill="#ffff77"/>
<text x="2080.5" y="182.6">fMWMInput</text>
<rect x="1936" y="80" width="68" height="14" fill="#ffff77"/>
<text x="1968.5" y="90.6">fMWMValue</text>
<rect x="1936" y="99" width="68" height="14" fill="#ffff77"/>
<text x="1968.5" y="109.27">fResourceName</text>
<rect x="1936" y="113" width="68" height="15" fill="#ffff77"/>
<text x="1968.5" y="123.93">fWMHeight</text>
<rect x="1936" y="128" width="68" height="14" fill="#ffff77"/>
<text x="1968.5" y="138.6">fWMHeightInc</text>
<rect x="1936" y="143" width="68" height="14" fill="#ffff77"/>
<text x="1968.5" y="153.27">fWMInitState</text>
<rect x="1936" y="157" width="68" height="15" fill="#ffff77"/>
<text x="1968.5" y="167.93">fWMMaxHeight</text>
<rect x="1936" y="172" width="68" height="14" fill="#ffff77"/>
<text x="1968.5" y="182.6">fWMMaxWidth</text>
<rect x="1936" y="187" width="68" height="14" fill="#ffff77"/>
<text x="1968.5" y="197.27">fWMMinHeight</text>
<rect x="1824" y="259" width="68" height="14" fill="#ccffcc"/>
<text x="1856.5" y="269.27">SaveSource</text>
<rect x="1824" y="273" width="68" height="15" fill="#ccffcc"/>
<text x="1856.5" y="283.93">SendCloseMessage</text>
<rect x="1824" y="288" width="68" height="14" fill="#ccffcc"/>
<text x="1856.5" y="298.6">SetClassHints</text>
<rect x="1824" y="303" width="68" height="14" fill="#ccffcc"/>
<text x="1856.5" y="313.27">SetIconName</text>
<rect x="1824" y="317" width="68" height="15" fill="#ccffcc"/>
<text x="1856.5" y="327.93">SetIconPixmap</text>
<rect x="1824" y="332" width="68" height="14" fill="#ccffcc"/>
<text x="1856.5" y="342.6">SetMWMHints</text>
<rect x="1824" y="347" width="68" height="14" fill="#ccffcc"/>
<text x="1856.5" y="357.27">SetWMPosition</text>
<rect x="1824" y="361" width="68" height="15" fill="#ccffcc"/>
<text x="1856.5" y="371.93">SetWMSize</text>
<rect x="1824" y="376" width="68" height="14" fill="#ccffcc"/>
<text x="1856.5" y="386.6">SetWMSizeHints</text>
<rect x="1824" y="391" width="68" height="14" fill="#ccffcc"/>
<text x="1856.5" y="401.27">SetWMState</text>
<rect x="1824" y="405" width="68" height="15" fill="#ccffcc"/>
<text x="1856.5" y="415.93">SetWindowName</text>
<rect x="1824" y="420" width="68" height="14" fill="#777777"/>
<text x="1856.5" y="430.6">ShowMembers</text>
<rect x="1824" y="435" width="68" height="14" fill="#777777"/>
<text x="1856.5" y="445.27">Streamer</text>
<rect x="1824" y="449" width="68" height="15" fill="#777777"/>
<text x="1856.5" y="459.93">StreamerNVirtual</text>
<rect x="1824" y="464" width="68" height="14" fill="#ccffcc"/>
<text x="1856.5" y="474.6">TGMainFrame</text>
<rect x="1824" y="479" width="68" height="14" fill="#ffcccc"/>
<text x="1856.5" y="489.27">operator=</text>
<rect x="1824" y="493" width="68" height="15" fill="#ccffcc"/>
<text x="1856.5" y="503.93"><tspan dy="1.5">~</tspan><tspan dy="-1.5">TGMainFrame</tspan></text>
<rect x="2048" y="273" width="68" height="15" fill="#ccffcc"/>
<text x="2080.5" y="283.93">BindKey</text>
<rect x="2048" y="288" width="68" height="14" fill="#777777"/>
<text x="2080.5" y="298.6">Class</text>
<rect x="2048" y="303" width="68" height="14" fill="#777777"/>
<text x="2080.5" y="313.27">Class_Name</text>
<rect x="2048" y="317" width="68" height="15" fill="#777777"/>
<text x="2080.5" y="327.93">Class_Version</text>
<rect x="2048" y="332" width="68" height="14" fill="#ccffcc"/>
<text x="2080.5" y="342.6">CloseWindow</text>
<rect x="2048" y="347" width="68" height="14" fill="#777777"/>
<text x="2080.5" y="357.27">DeclFileLine</text>
<rect x="2048" y="361" width="68" height="15" fill="#777777"/>
<text x="2080.5" y="371.93">DeclFileName</text>
<rect x="2048" y="376" width="68" height="14" fill="#777777"/>
<text x="2080.5" y="386.6">Dictionary</text>
<rect x="2048" y="391" width="68" height="14" fill="#ccffcc"/>
<text x="2080.5" y="401.27">DontCallClose</text>
<rect x="2048" y="405" width="68" height="15" fill="#ccffcc"/>
<text x="2080.5" y="415.93">GetBindList</text>
<rect x="2048" y="420" width="68" height="14" fill="#ccffcc"/>
<text x="2080.5" y="430.6">GetClassHints</text>
<rect x="2048" y="435" width="68" height="14" fill="#ccffcc"/>
<text x="2080.5" y="445.27">GetIconName</text>
<rect x="2048" y="449" width="68" height="15" fill="#ccffcc"/>
<text x="2080.5" y="459.93">GetIconPixmap</text>
<rect x="2048" y="464" width="68" height="14" fill="#ccffcc"/>
<text x="2080.5" y="474.6">GetMWMHints</text>
<rect x="2048" y="479" width="68" height="14" fill="#ffff77"/>
<text x="2080.5" y="489.27">GetMWMfuncString</text>
<rect x="2048" y="493" width="68" height="15" fill="#ffff77"/>
<text x="2080.5" y="503.93">GetMWMinpString</text>
<rect x="1936" y="259" width="68" height="14" fill="#ffff77"/>
<text x="1968.5" y="269.27">GetMWMvalueString</text>
<rect x="1936" y="273" width="68" height="15" fill="#ccffcc"/>
<text x="1968.5" y="283.93">GetWMPosition</text>
<rect x="1936" y="288" width="68" height="14" fill="#ccffcc"/>
<text x="1968.5" y="298.6">GetWMSize</text>
<rect x="1936" y="303" width="68" height="14" fill="#ccffcc"/>
<text x="1968.5" y="313.27">GetWMSizeHints</text>
<rect x="1936" y="317" width="68" height="15" fill="#ccffcc"/>
<text x="1968.5" y="327.93">GetWMState</text>
<rect x="1936" y="332" width="68" height="14" fill="#ccffcc"/>
<text x="1968.5" y="342.6">GetWindowName</text>
<rect x="1936" y="347" width="68" height="14" fill="#ccffcc"/>
<text x="1968.5" y="357.27">HandleButton</text>
<rect x="1936" y="361" width="68" height="15" fill="#ccffcc"/>
<text x="1968.5" y="371.93">HandleClientMessage</text>
<rect x="1936" y="376" width="68" height="14" fill="#ccffcc"/>
<text x="1968.5" y="386.6">HandleKey</text>
<rect x="1936" y="391" width="68" height="14" fill="#ccffcc"/>
<text x="1968.5" y="401.27">HandleMotion</text>
<rect x="1936" y="405" width="68" height="15" fill="#ccffcc"/>
<text x="1968.5" y="415.93">HandleSelection</text>
<rect x="1936" y="420" width="68" height="14" fill="#ccffcc"/>
<text x="1968.5" y="430.6">HandleSelectionRequest</text>
<rect x="1936" y="435" width="68" height="14" fill="#777777"/>
<text x="1968.5" y="445.27">ImplFileLine</text>
<rect x="1936" y="449" width="68" height="15" fill="#777777"/>
<text x="1968.5" y="459.93">ImplFileName</text>
<rect x="1936" y="464" width="68" height="14" fill="#777777"/>
<text x="1968.5" y="474.6">IsA</text>
<rect x="1936" y="479" width="68" height="14" fill="#ccffcc"/>
<text x="1968.5" y="489.27">RemoveBind</text>
<rect x="1936" y="493" width="68" height="15" fill="#ccffcc"/>
<text x="1968.5" y="503.93">SavePrimitive</text>
<rect class="c" x="2160.5" y="16.5" width="333" height="321"/>
<text class="t" transform="translate(2326.67 38.8) scale(1 .95)">TGRecorder</text>
<rect x="2181" y="80" width="68" height="14" fill="#ffcccc"/>
<text x="2213.83" y="90.6">fTimeDisplay</text>
<rect x="2181" y="99" width="68" height="14" fill="#ffcccc"/>
<text x="2213.83" y="109.27">fTimer</text>
<rect x="2181" y="113" width="68" height="15" fill="#ffcccc"/>
<text x="2213.83" y="123.93">fgIsA</text>
<rect x="2181" y="128" width="68" height="14" fill="#ffcccc"/>
<text x="2213.83" y="138.6">fgWidgetsCount</text>
<rect x="2405" y="80" width="68" height="14" fill="#ffcccc"/>
<text x="2437.83" y="90.6">fCursorCheckBox</text>
<rect x="2405" y="99" width="68" height="14" fill="#ffcccc"/>
<text x="2437.83" y="109.27">fElapsed</text>
<rect x="2405" y="113" width="68" height="15" fill="#ffcccc"/>
<text x="2437.83" y="123.93">fFilteredIds</text>
<rect x="2405" y="128" width="68" height="14" fill="#ffcccc"/>
<text x="2437.83" y="138.6">fRecorder</text>
<rect x="2293" y="80" width="68" height="14" fill="#ffcccc"/>
<text x="2325.83" y="90.6">fReplay</text>
<rect x="2293" y="99" width="68" height="14" fill="#ffcccc"/>
<text x="2325.83" y="109.27">fStart</text>
<rect x="2293" y="113" width="68" height="15" fill="#ffcccc"/>
<text x="2325.83" y="123.93">fStartStop</text>
<rect x="2293" y="128" width="68" height="14" fill="#ffcccc"/>
<text x="2325.83" y="138.6">fStatus</text>
<rect x="2181" y="229" width="68" height="15" fill="#ccffcc"/>
<text x="2213.83" y="239.93">StartStop</text>
<rect x="2181" y="244" width="68" height="14" fill="#ccffcc"/>
<text x="2213.83" y="254.6">Streamer</text>
<rect x="2181" y="259" width="68" height="14" fill="#ccffcc"/>
<text x="2213.83" y="269.27">StreamerNVirtual</text>
<rect x="2181" y="273" width="68" height="15" fill="#ccffcc"/>
<text x="2213.83" y="283.93">TGRecorder</text>
<rect x="2181" y="288" width="68" height="14" fill="#ccffcc"/>
<text x="2213.83" y="298.6">Update</text>
<rect x="2181" y="303" width="68" height="14" fill="#ccffcc"/>
<text x="2213.83" y="313.27"><tspan dy="1.5">~</tspan><tspan dy="-1.5">TGRecorder</tspan></text>
<rect x="2405" y="229" width="68" height="15" fill="#ccffcc"/>
<text x="2437.83" y="239.93">Class</text>
<rect x="2405" y="244" width="68" height="14" fill="#ccffcc"/>
<text x="2437.83" y="254.6">Class_Name</text>
<rect x="2405" y="259" width="68" height="14" fill="#ccffcc"/>
<text x="2437.83" y="269.27">Class_Version</text>
<rect x="2405" y="273" width="68" height="15" fill="#ccffcc"/>
<text x="2437.83" y="283.93">DeclFileLine</text>
<rect x="2405" y="288" width="68" height="14" fill="#ccffcc"/>
<text x="2437.83" y="298.6">DeclFileName</text>
<rect x="2405" y="303" width="68" height="14" fill="#ccffcc"/>
<text x="2437.83" y="313.27">Dictionary</text>
<rect x="2293" y="229" width="68" height="15" fill="#ccffcc"/>
<text x="2325.83" y="239.93">ImplFileLine</text>
<rect x="2293" y="244" width="68" height="14" fill="#ccffcc"/>
<text x="2325.83" y="254.6">ImplFileName</text>
<rect x="2293" y="259" width="68" height="14" fill="#ccffcc"/>
<text x="2325.83" y="269.27">IsA</text>
<rect x="2293" y="273" width="68" height="15" fill="#ccffcc"/>
<text x="2325.83" y="283.93">Replay</text>
<rect x="2293" y="288" width="68" height="14" fill="#ffcccc"/>
<text x="2325.83" y="298.6">SetDefault</text>
<rect x="2293" y="303" width="68" height="14" fill="#ccffcc"/>
<text x="2325.83" y="313.27">ShowMembers</text>
<path class="e" d="M373.5 96.5 L363.3 96.5"/><path class="a" d="M363.3 91.83 L350.4 96.5 L363.3 101.17 Z"/>
<path class="e" d="M731.5 96.5 L721.3 96.5"/><path class="a" d="M721.3 91.83 L708.4 96.5 L721.3 101.17 Z"/>
<path class="e" d="M1088.5 96.5 L1078.3 96.5"/><path class="a" d="M1078.3 91.83 L1065.4 96.5 L1078.3 101.17 Z"/>
<path class="e" d="M1445.5 96.5 L1435.3 96.5"/><path class="a" d="M1435.3 91.83 L1422.4 96.5 L1435.3 101.17 Z"/>
<path class="e" d="M1803.5 96.5 L1793.3 96.5"/><path class="a" d="M1793.3 91.83 L1780.4 96.5 L1793.3 101.17 Z"/>
<path class="e" d="M2160.5 96.5 L2150.3 96.5"/><path class="a" d="M2150.3 91.83 L2137.4 96.5 L2150.3 101.17 Z"/>
<path class="e" style="stroke-width:1.25" d="M1088.7 103.3 L1079.3 123.1 C1078.8 126.65 1077.12 138.22 1076.3 144.4 C1075.48 150.58 1074.87 153.6 1074.4 160.2 C1073.93 166.8 1073.8 176.7 1073.5 184 C1073.2 191.3 1072.73 193.83 1072.6 204 C1072.47 214.17 1072.47 230.67 1072.7 245 C1072.93 259.33 1073.6 277.5 1074 290 C1074.4 302.5 1074.7 309.17 1075.1 320 C1075.5 330.83 1076 341.67 1076.4 355 C1076.8 368.33 1077.22 386 1077.5 400 C1077.78 414 1077.92 424.5 1078.1 439 C1078.28 453.5 1078.55 471 1078.6 487 C1078.65 503 1078.58 524 1078.4 535 C1078.22 546 1077.9 546.17 1077.5 553 C1077.1 559.83 1076.65 569.33 1076 576 C1075.35 582.67 1074.37 587.42 1073.6 593 C1072.83 598.58 1071.77 606.75 1071.4 609.5"/>
<path class="a" d="M1067.6 608.1 L1064.6 621.2 L1075.8 612.3 Z"/>
</svg>
</body></html>
